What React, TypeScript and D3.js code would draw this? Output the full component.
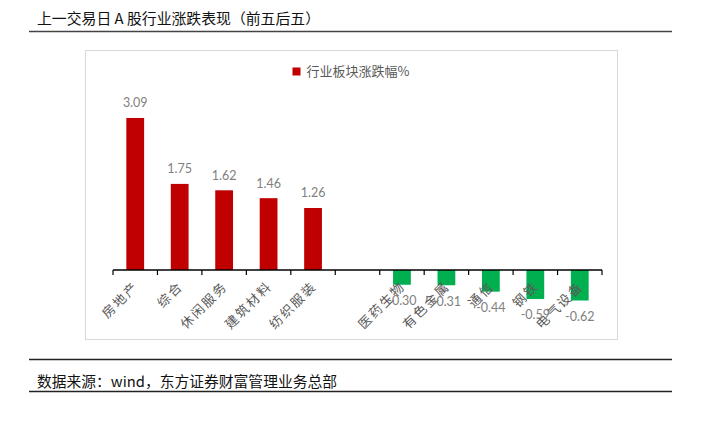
import React from "react";
import * as d3 from "d3";

const categories = ["房地产", "综合", "休闲服务", "建筑材料", "纺织服装", "", "医药生物", "有色金属", "通信", "钢铁", "电气设备"];
const values: (number | null)[] = [3.09, 1.75, 1.62, 1.46, 1.26, null, -0.3, -0.31, -0.44, -0.59, -0.62];
const legendLabel = "行业板块涨跌幅%";
const title = "上一交易日 A 股行业涨跌表现（前五后五）";
const source = "数据来源：wind，东方证券财富管理业务总部";

const W = 703;
const H = 424;

export default function App() {
  const x = d3.scaleBand<string>().domain(categories.map((c, i) => i + "")).range([113, 602]).paddingInner(0).paddingOuter(0);
  const y = d3.scaleLinear().domain([-1, 3.5]).range([319.2, 97.8]);
  const y0 = y(0);
  const bw = x.bandwidth();
  const barW = bw * 0.4;
  const ticks = d3.range(categories.length + 1).map((i) => 113 + i * bw);
  const cjk = "'Noto Sans CJK SC', sans-serif";
  return (
    <div style={{ position: "absolute", left: 0, top: 0, width: W, height: H, background: "#fff" }}>
      <svg width={W} height={H} style={{ display: "block" }}>
        <rect width={W} height={H} fill="#fff" />
        <text x={37} y={24} fontFamily={cjk} fontSize={14.5} fill="#111" textLength={283} lengthAdjust="spacingAndGlyphs">{title}</text>
        <line x1={29} x2={672} y1={31.5} y2={31.5} stroke="#444" strokeWidth={1.5} />
        <rect x={85.5} y={50.5} width={532} height={289} fill="#fff" stroke="#d9d9d9" strokeWidth={1} />
        {/* legend */}
        <rect x={292.5} y={67.5} width={8} height={8} fill="#c00000" />
        <text x={306.5} y={71.5} dy="0.35em" fontFamily={cjk} fontSize={13} fill="#595959">{legendLabel}</text>
        {/* bars */}
        {values.map((v, i) => {
          if (v === null) return null;
          const cx = (x(i + "") as number) + bw / 2;
          const top = v >= 0 ? y(v) : y0;
          const h = Math.abs(y(v) - y0);
          return (
            <g key={i}>
              <rect x={cx - barW / 2} y={top} width={barW} height={h} fill={v >= 0 ? "#c00000" : "#00b050"} />
            </g>
          );
        })}
        {/* axis */}
        <line x1={113} x2={602} y1={y0} y2={y0} stroke="#000" strokeWidth={1.5} />
        {ticks.map((t, i) => (
          <line key={i} x1={t} x2={t} y1={y0} y2={y0 + 5} stroke="#000" strokeWidth={1.2} />
        ))}
        {/* category labels */}
        {categories.map((c, i) => {
          const cx = (x(i + "") as number) + bw / 2;
          return (
            <text key={i} transform={`translate(${cx + 1},${y0 + 14}) rotate(-45)`} textAnchor="end" dy="0.35em" fontFamily={cjk} fontSize={13} letterSpacing={2} fill="#595959">{c}</text>
          );
        })}
        {/* value labels */}
        {values.map((v, i) => {
          if (v === null) return null;
          const cx = (x(i + "") as number) + bw / 2;
          const ly = v >= 0 ? y(v) - 15 : y(v) + 16;
          return (
            <text key={i} x={cx} y={ly} dy="0.35em" textAnchor="middle" fontFamily="Lato, 'Open Sans', sans-serif" fontSize={12.5} fill="#7f7f7f">{v.toFixed(2)}</text>
          );
        })}
        <line x1={29} x2={672} y1={359.5} y2={359.5} stroke="#222" strokeWidth={1.5} />
        <text x={37} y={387} fontFamily={cjk} fontSize={14.5} fill="#111" textLength={300} lengthAdjust="spacingAndGlyphs">{source}</text>
        <line x1={29} x2={672} y1={391.5} y2={391.5} stroke="#222" strokeWidth={1.5} />
      </svg>
    </div>
  );
}
